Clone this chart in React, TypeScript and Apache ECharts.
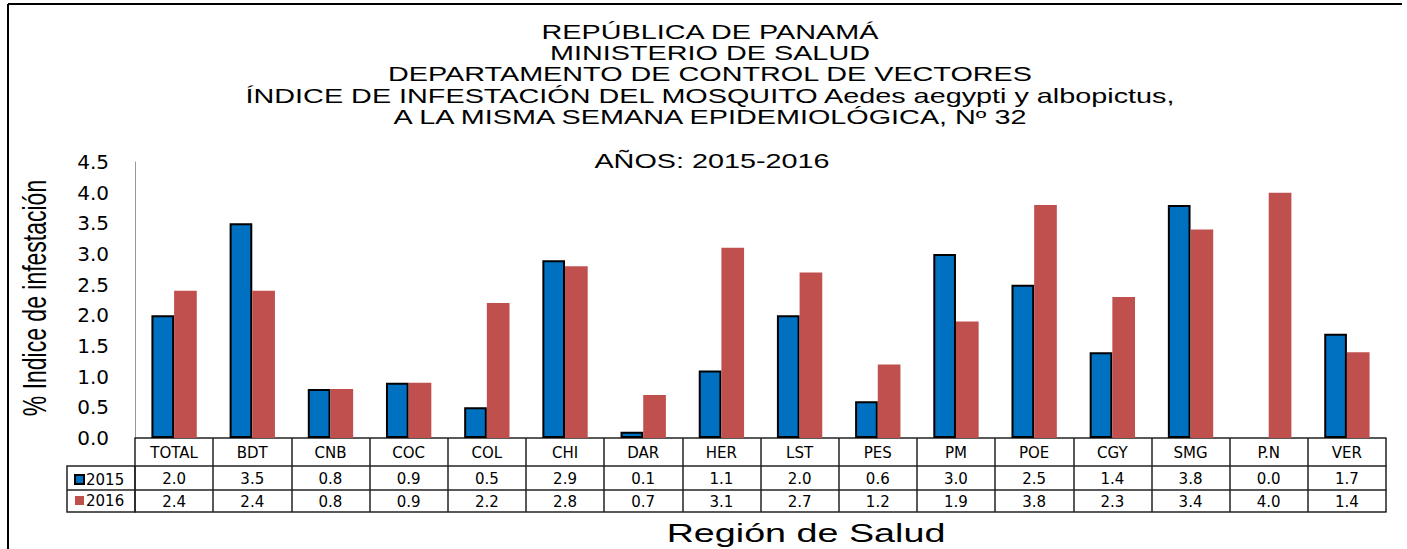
import React, { useEffect, useRef } from 'react';
import * as echarts from 'echarts';

const CATEGORIES = ['TOTAL', 'BDT', 'CNB', 'COC', 'COL', 'CHI', 'DAR', 'HER', 'LST', 'PES', 'PM', 'POE', 'CGY', 'SMG', 'P.N', 'VER'];
const VALUES_2015 = [2.0, 3.5, 0.8, 0.9, 0.5, 2.9, 0.1, 1.1, 2.0, 0.6, 3.0, 2.5, 1.4, 3.8, 0.0, 1.7];
const VALUES_2016 = [2.4, 2.4, 0.8, 0.9, 2.2, 2.8, 0.7, 3.1, 2.7, 1.2, 1.9, 3.8, 2.3, 3.4, 4.0, 1.4];
const SERIES_NAMES = ['2015', '2016'];

const TITLE_LINES = [
  'REPÚBLICA DE PANAMÁ',
  'MINISTERIO DE SALUD',
  'DEPARTAMENTO DE CONTROL DE VECTORES',
  'ÍNDICE DE INFESTACIÓN DEL MOSQUITO Aedes aegypti y albopictus,',
  'A LA MISMA SEMANA EPIDEMIOLÓGICA, Nº 32',
];
const SUBTITLE = 'AÑOS: 2015-2016';
const X_TITLE = 'Región de Salud';
const Y_TITLE = '% Indice de infestación';

const Y_MIN = 0;
const Y_MAX = 4.5;
const Y_STEP = 0.5;

const SANS = "'Liberation Sans', Arial, sans-serif";
const WIDE = "'DejaVu Sans', 'Liberation Sans', sans-serif";
const LINE = '#222';

export default function App() {
  const ref = useRef<HTMLDivElement>(null);

  useEffect(() => {
    if (!ref.current) return;
    const chart = echarts.init(ref.current, null, { renderer: 'svg' });

    const titleY = [32, 53, 74.5, 96, 117.5];
    const graphic: any[] = [];
    TITLE_LINES.forEach((t, i) => {
      graphic.push({
        type: 'text',
        x: 710,
        y: titleY[i],
        scaleX: 1.44,
        style: { text: t, fontSize: 20, fontFamily: SANS, fill: '#000', align: 'center', verticalAlign: 'middle' },
      });
    });
    graphic.push({
      type: 'text',
      x: 712,
      y: 161,
      scaleX: 1.44,
      style: { text: SUBTITLE, fontSize: 20, fontFamily: SANS, fill: '#000', align: 'center', verticalAlign: 'middle' },
    });
    graphic.push({
      type: 'text',
      x: 806,
      y: 533,
      scaleX: 1.45,
      style: { text: X_TITLE, fontSize: 26, fontFamily: SANS, fill: '#000', align: 'center', verticalAlign: 'middle' },
    });
    graphic.push({
      type: 'text',
      x: 34,
      y: 298,
      rotation: Math.PI / 2,
      scaleY: 1.45,
      style: { text: Y_TITLE, fontSize: 23, fontFamily: SANS, fill: '#000', align: 'center', verticalAlign: 'middle' },
    });
    // outer frame
    graphic.push({ type: 'line', shape: { x1: 8, y1: 4, x2: 1402, y2: 4 }, style: { stroke: '#000', lineWidth: 2 } });
    graphic.push({ type: 'line', shape: { x1: 8, y1: 4, x2: 8, y2: 549 }, style: { stroke: '#000', lineWidth: 2 } });
    // legend column of the data table
    graphic.push({ type: 'rect', shape: { x: 67, y: 466, width: 68, height: 46 }, style: { fill: 'none', stroke: LINE, lineWidth: 1.5 } });
    graphic.push({ type: 'line', shape: { x1: 67, y1: 490, x2: 135, y2: 490 }, style: { stroke: LINE, lineWidth: 1.5 } });

    const tableLabel = { fontSize: 15, fontFamily: WIDE, color: '#000', interval: 0 };

    const option: any = {
      animation: false,
      backgroundColor: '#fff',
      graphic,
      legend: {
        data: SERIES_NAMES,
        orient: 'vertical',
        left: 69,
        top: 467,
        itemGap: 6,
        itemWidth: 9,
        itemHeight: 9,
        icon: 'rect',
        textStyle: { fontSize: 15, fontFamily: WIDE, color: '#000', padding: [0, 0, 0, -3] },
        selectedMode: false,
      },
      grid: { left: 135, right: 21, top: 162, bottom: 111, containLabel: false },
      xAxis: [
        {
          type: 'category',
          data: CATEGORIES,
          position: 'bottom',
          axisLine: { show: true, lineStyle: { color: LINE, width: 1.5 } },
          axisTick: { show: true, length: 74, interval: 0, alignWithLabel: false, lineStyle: { color: LINE, width: 1.5 } },
          axisLabel: { ...tableLabel, margin: 7 },
          splitLine: { show: false },
        },
        {
          type: 'category',
          data: CATEGORIES,
          position: 'bottom',
          offset: 28,
          axisLine: { show: true, lineStyle: { color: LINE, width: 1.5 } },
          axisTick: { show: false },
          axisLabel: { ...tableLabel, margin: 5, formatter: (_v: string, i: number) => VALUES_2015[i].toFixed(1) },
        },
        {
          type: 'category',
          data: CATEGORIES,
          position: 'bottom',
          offset: 52,
          axisLine: { show: true, lineStyle: { color: LINE, width: 1.5 } },
          axisTick: { show: false },
          axisLabel: { ...tableLabel, margin: 4, formatter: (_v: string, i: number) => VALUES_2016[i].toFixed(1) },
        },
        {
          type: 'category',
          data: CATEGORIES,
          position: 'bottom',
          offset: 74,
          axisLine: { show: true, lineStyle: { color: LINE, width: 1.5 } },
          axisTick: { show: false },
          axisLabel: { show: false },
        },
      ],
      yAxis: {
        type: 'value',
        min: Y_MIN,
        max: Y_MAX,
        interval: Y_STEP,
        axisLine: { show: true, lineStyle: { color: '#999', width: 1 } },
        axisTick: { show: false },
        splitLine: { show: false },
        axisLabel: {
          fontSize: 20,
          fontFamily: WIDE,
          color: '#000',
          margin: 26,
          formatter: (v: number) => v.toFixed(1),
        },
      },
      series: [
        {
          name: SERIES_NAMES[0],
          type: 'bar',
          xAxisIndex: 0,
          barCategoryGap: '42%',
          barGap: '0%',
          itemStyle: { color: '#0070C0', borderColor: '#000', borderWidth: 2 },
          data: VALUES_2015.map((v) => (v === 0 ? { value: v, itemStyle: { borderWidth: 0 } } : v)),
        },
        {
          name: SERIES_NAMES[1],
          type: 'bar',
          xAxisIndex: 0,
          barCategoryGap: '42%',
          barGap: '0%',
          itemStyle: { color: '#C0504D' },
          data: VALUES_2016,
        },
      ],
    };

    chart.setOption(option);
    return () => chart.dispose();
  }, []);

  return <div ref={ref} style={{ position: 'absolute', left: 0, top: 0, width: 1407, height: 549 }} />;
}
